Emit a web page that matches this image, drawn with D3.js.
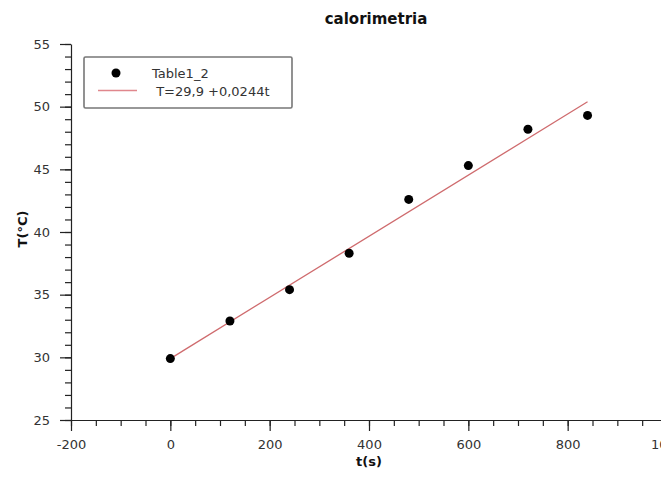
<!DOCTYPE html>
<html>
<head>
<meta charset="utf-8">
<script src="https://cdn.jsdelivr.net/npm/d3@7"></script>
<style>
  body { margin: 0; background: #fff; }
  svg { display: block; }
</style>
</head>
<body>
<div id="frame"></div>
<script>
// measured points, t in seconds, T in degrees C
var timeS = [0, 120, 240, 360, 480, 600, 720, 840];
var tempC = [29.9, 32.9, 35.4, 38.3, 42.6, 45.3, 48.2, 49.3];

// linear fit from the legend: T = 29,9 + 0,0244 t
var fitIntercept = 29.9;
var fitSlope = 0.0244;
var fitTimes = [0, 840];

var xTicks = [-200, 0, 200, 400, 600, 800, 1000];
var yTicks = [25, 30, 35, 40, 45, 50, 55];

var seriesName = "Table1_2";
var fitName = " T=29,9 +0,0244t";

var W = 661, H = 477;
var font = "'DejaVu Sans', Verdana, sans-serif";
var plain = function(d) { return String(d); };

var svg = d3.select('#frame').append('svg').attr('width', W).attr('height', H);

var x = d3.scaleLinear().domain([-200, 1000]).range([71, 667]);
var y = d3.scaleLinear().domain([25, 55]).range([420, 44]);

// minor ticks
svg.append('g')
  .attr('transform', 'translate(0,' + y(25) + ')')
  .call(d3.axisBottom(x).ticks(24).tickSize(6).tickSizeOuter(0).tickFormat(''))
  .call(function(g) { g.select('.domain').remove(); });
svg.append('g')
  .attr('transform', 'translate(' + x(-200) + ',0)')
  .call(d3.axisLeft(y).ticks(30).tickSize(6).tickSizeOuter(0).tickFormat(''))
  .call(function(g) { g.select('.domain').remove(); });

// major ticks
svg.append('g')
  .attr('transform', 'translate(0,' + y(25) + ')')
  .call(d3.axisBottom(x).tickValues(xTicks).tickFormat(plain)
    .tickSize(11).tickSizeOuter(0).tickPadding(9));
svg.append('g')
  .attr('transform', 'translate(' + x(-200) + ',0)')
  .call(d3.axisLeft(y).tickValues(yTicks).tickFormat(plain)
    .tickSize(11).tickSizeOuter(0).tickPadding(10));

svg.selectAll('.tick line, .domain').attr('stroke', '#222').attr('stroke-width', 1.2);
svg.selectAll('.tick text')
  .attr('font-family', font)
  .attr('font-size', '13px')
  .attr('fill', '#333');

// fit line
svg.append('line')
  .attr('x1', x(fitTimes[0]))
  .attr('y1', y(fitIntercept + fitSlope * fitTimes[0]))
  .attr('x2', x(fitTimes[1]))
  .attr('y2', y(fitIntercept + fitSlope * fitTimes[1]))
  .attr('stroke', '#cf6b6e')
  .attr('stroke-width', 1.3);

// points
svg.selectAll('circle.pt')
  .data(timeS)
  .enter()
  .append('circle')
  .attr('class', 'pt')
  .attr('cx', function(d) { return x(d); })
  .attr('cy', function(d, i) { return y(tempC[i]); })
  .attr('r', 4.5)
  .attr('fill', '#000');

// title and axis labels
svg.append('text')
  .attr('x', 376).attr('y', 24)
  .attr('text-anchor', 'middle')
  .attr('font-family', font).attr('font-weight', 'bold').attr('font-size', '15px')
  .attr('fill', '#111')
  .text('calorimetria');

svg.append('text')
  .attr('x', 369).attr('y', 466)
  .attr('text-anchor', 'middle')
  .attr('font-family', font).attr('font-weight', 'bold').attr('font-size', '13px')
  .attr('fill', '#111')
  .text('t(s)');

svg.append('text')
  .attr('transform', 'translate(27,229) rotate(-90)')
  .attr('text-anchor', 'middle')
  .attr('font-family', font).attr('font-weight', 'bold').attr('font-size', '13px')
  .attr('fill', '#111')
  .text('T(°C)');

// legend
var legend = svg.append('g');
legend.append('rect')
  .attr('x', 84).attr('y', 57)
  .attr('width', 208).attr('height', 51)
  .attr('rx', 1.5)
  .attr('fill', '#fff')
  .attr('stroke', '#777')
  .attr('stroke-width', 1.6);
legend.append('circle')
  .attr('cx', 116).attr('cy', 73).attr('r', 4.5).attr('fill', '#000');
legend.append('line')
  .attr('x1', 98).attr('x2', 137).attr('y1', 90.5).attr('y2', 90.5)
  .attr('stroke', '#e0878d').attr('stroke-width', 1.6);
legend.append('text')
  .attr('x', 152).attr('y', 78)
  .attr('font-family', font).attr('font-size', '13px').attr('fill', '#333')
  .text(seriesName);
legend.append('text')
  .attr('x', 152).attr('y', 96)
  .attr('font-family', font).attr('font-size', '13px').attr('fill', '#333')
  .style('white-space', 'pre')
  .text(fitName);
</script>
</body>
</html>
